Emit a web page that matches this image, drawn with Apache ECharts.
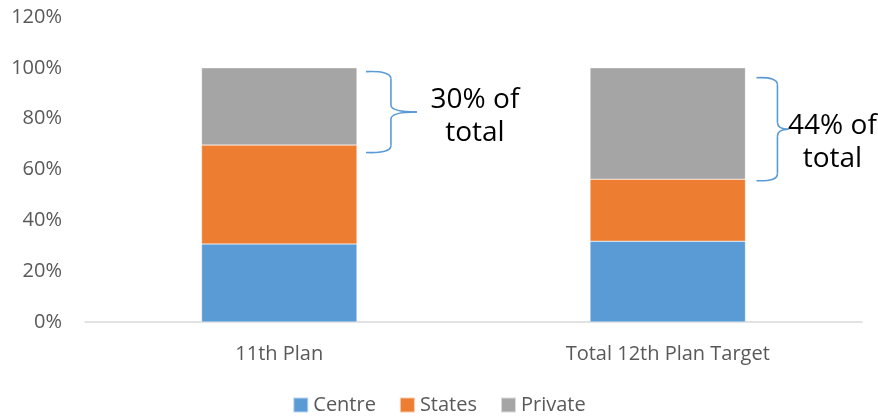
<!DOCTYPE html>
<html>
<head>
<meta charset="utf-8">
<script src="https://cdn.jsdelivr.net/npm/echarts@6/dist/echarts.min.js"></script>
<style>
html,body{margin:0;padding:0;background:#fff;}
#chart{width:878px;height:418px;}
</style>
</head>
<body>
<div id="chart"></div>
<script>
var categories = ['11th Plan', 'Total 12th Plan Target'];
var seriesNames = ['Centre', 'States', 'Private'];
var centre = [30.7, 31.8];
var states = [38.9, 24.4];
var priv = [30.4, 43.8];
var yTicks = [0, 20, 40, 60, 80, 100, 120];
var annotationTexts = ['30% of\ntotal', '44% of\ntotal'];
var braceTop = [98.5, 96.1];
var braceBottom = [66.7, 55.6];

var colors = ['#5B9BD5', '#ED7D31', '#A5A5A5'];
var FONT = '"Open Sans", sans-serif';

var chart = echarts.init(document.getElementById('chart'), null, {renderer: 'canvas'});
var values = [centre, states, priv];
var option = {
  animation: false,
  color: colors,
  grid: {left: 85, right: 16, top: 17, bottom: 96, containLabel: false},
  legend: {
    data: seriesNames,
    top: 390,
    left: 'center',
    itemWidth: 15,
    itemHeight: 15,
    itemGap: 23,
    icon: 'rect',
    textStyle: {color: '#595959', fontSize: 20, fontFamily: FONT, padding: [0, 0, 0, 0]}
  },
  xAxis: {
    type: 'category',
    data: categories,
    axisLine: {lineStyle: {color: '#D9D9D9', width: 1.5}},
    axisTick: {show: false},
    axisLabel: {color: '#595959', fontSize: 20, fontFamily: FONT, margin: 22}
  },
  yAxis: {
    type: 'value',
    min: yTicks[0],
    max: yTicks[yTicks.length - 1],
    interval: yTicks[1] - yTicks[0],
    axisLine: {show: false},
    axisTick: {show: false},
    splitLine: {show: false},
    axisLabel: {color: '#595959', fontSize: 20, fontFamily: FONT, margin: 23, formatter: '{value}%'}
  },
  series: seriesNames.map(function (n, i) {
    return {
      name: n,
      type: 'bar',
      stack: 'total',
      barWidth: '40%',
      data: values[i],
      itemStyle: {color: colors[i], borderColor: 'rgba(255,255,255,0.6)', borderWidth: 0.5}
    };
  })
};
chart.setOption(option);

// annotation layout (pixel offsets from bar right edge)
var braceLayout = [
  {x0: 9, xv: 34, xt: 60, tx: 118, ty: 4},
  {x0: 11, xv: 32, xt: 43, tx: 87, ty: 13}
];
var braceStyle = {stroke: '#5B9BD5', lineWidth: 1.6, fill: null};
var graphics = [];
function curve(x1, y1, cx, cy, x2, y2) {
  graphics.push({type: 'bezierCurve', shape: {x1: x1, y1: y1, cpx1: cx, cpy1: cy, x2: x2, y2: y2}, style: braceStyle});
}
function seg(x1, y1, x2, y2) {
  graphics.push({type: 'line', shape: {x1: x1, y1: y1, x2: x2, y2: y2}, style: braceStyle});
}
categories.forEach(function (c, i) {
  var center = chart.convertToPixel({xAxisIndex: 0}, c);
  var bandW = chart.convertToPixel({xAxisIndex: 0}, categories[1]) - chart.convertToPixel({xAxisIndex: 0}, categories[0]);
  var barRight = center + bandW * 0.4 / 2;
  var yT = chart.convertToPixel({yAxisIndex: 0}, braceTop[i]);
  var yB = chart.convertToPixel({yAxisIndex: 0}, braceBottom[i]);
  var yM = (yT + yB) / 2;
  var L = braceLayout[i];
  var x0 = barRight + L.x0, xv = barRight + L.xv, xt = barRight + L.xt;
  var r = 7;
  curve(x0, yT, xv, yT - 1, xv, yT + r);
  seg(xv, yT + r, xv, yM - r);
  curve(xv, yM - r, xv, yM, xt, yM);
  curve(xt, yM, xv, yM, xv, yM + r);
  seg(xv, yM + r, xv, yB - r);
  curve(xv, yB - r, xv, yB + 1, x0, yB);
  graphics.push({
    type: 'text',
    x: barRight + L.tx,
    y: yM + L.ty,
    z: 10,
    style: {
      text: annotationTexts[i],
      fill: '#000',
      font: '28px ' + FONT,
      lineHeight: 33,
      align: 'center',
      verticalAlign: 'middle'
    }
  });
});
chart.setOption({graphic: graphics});
</script>
</body>
</html>
